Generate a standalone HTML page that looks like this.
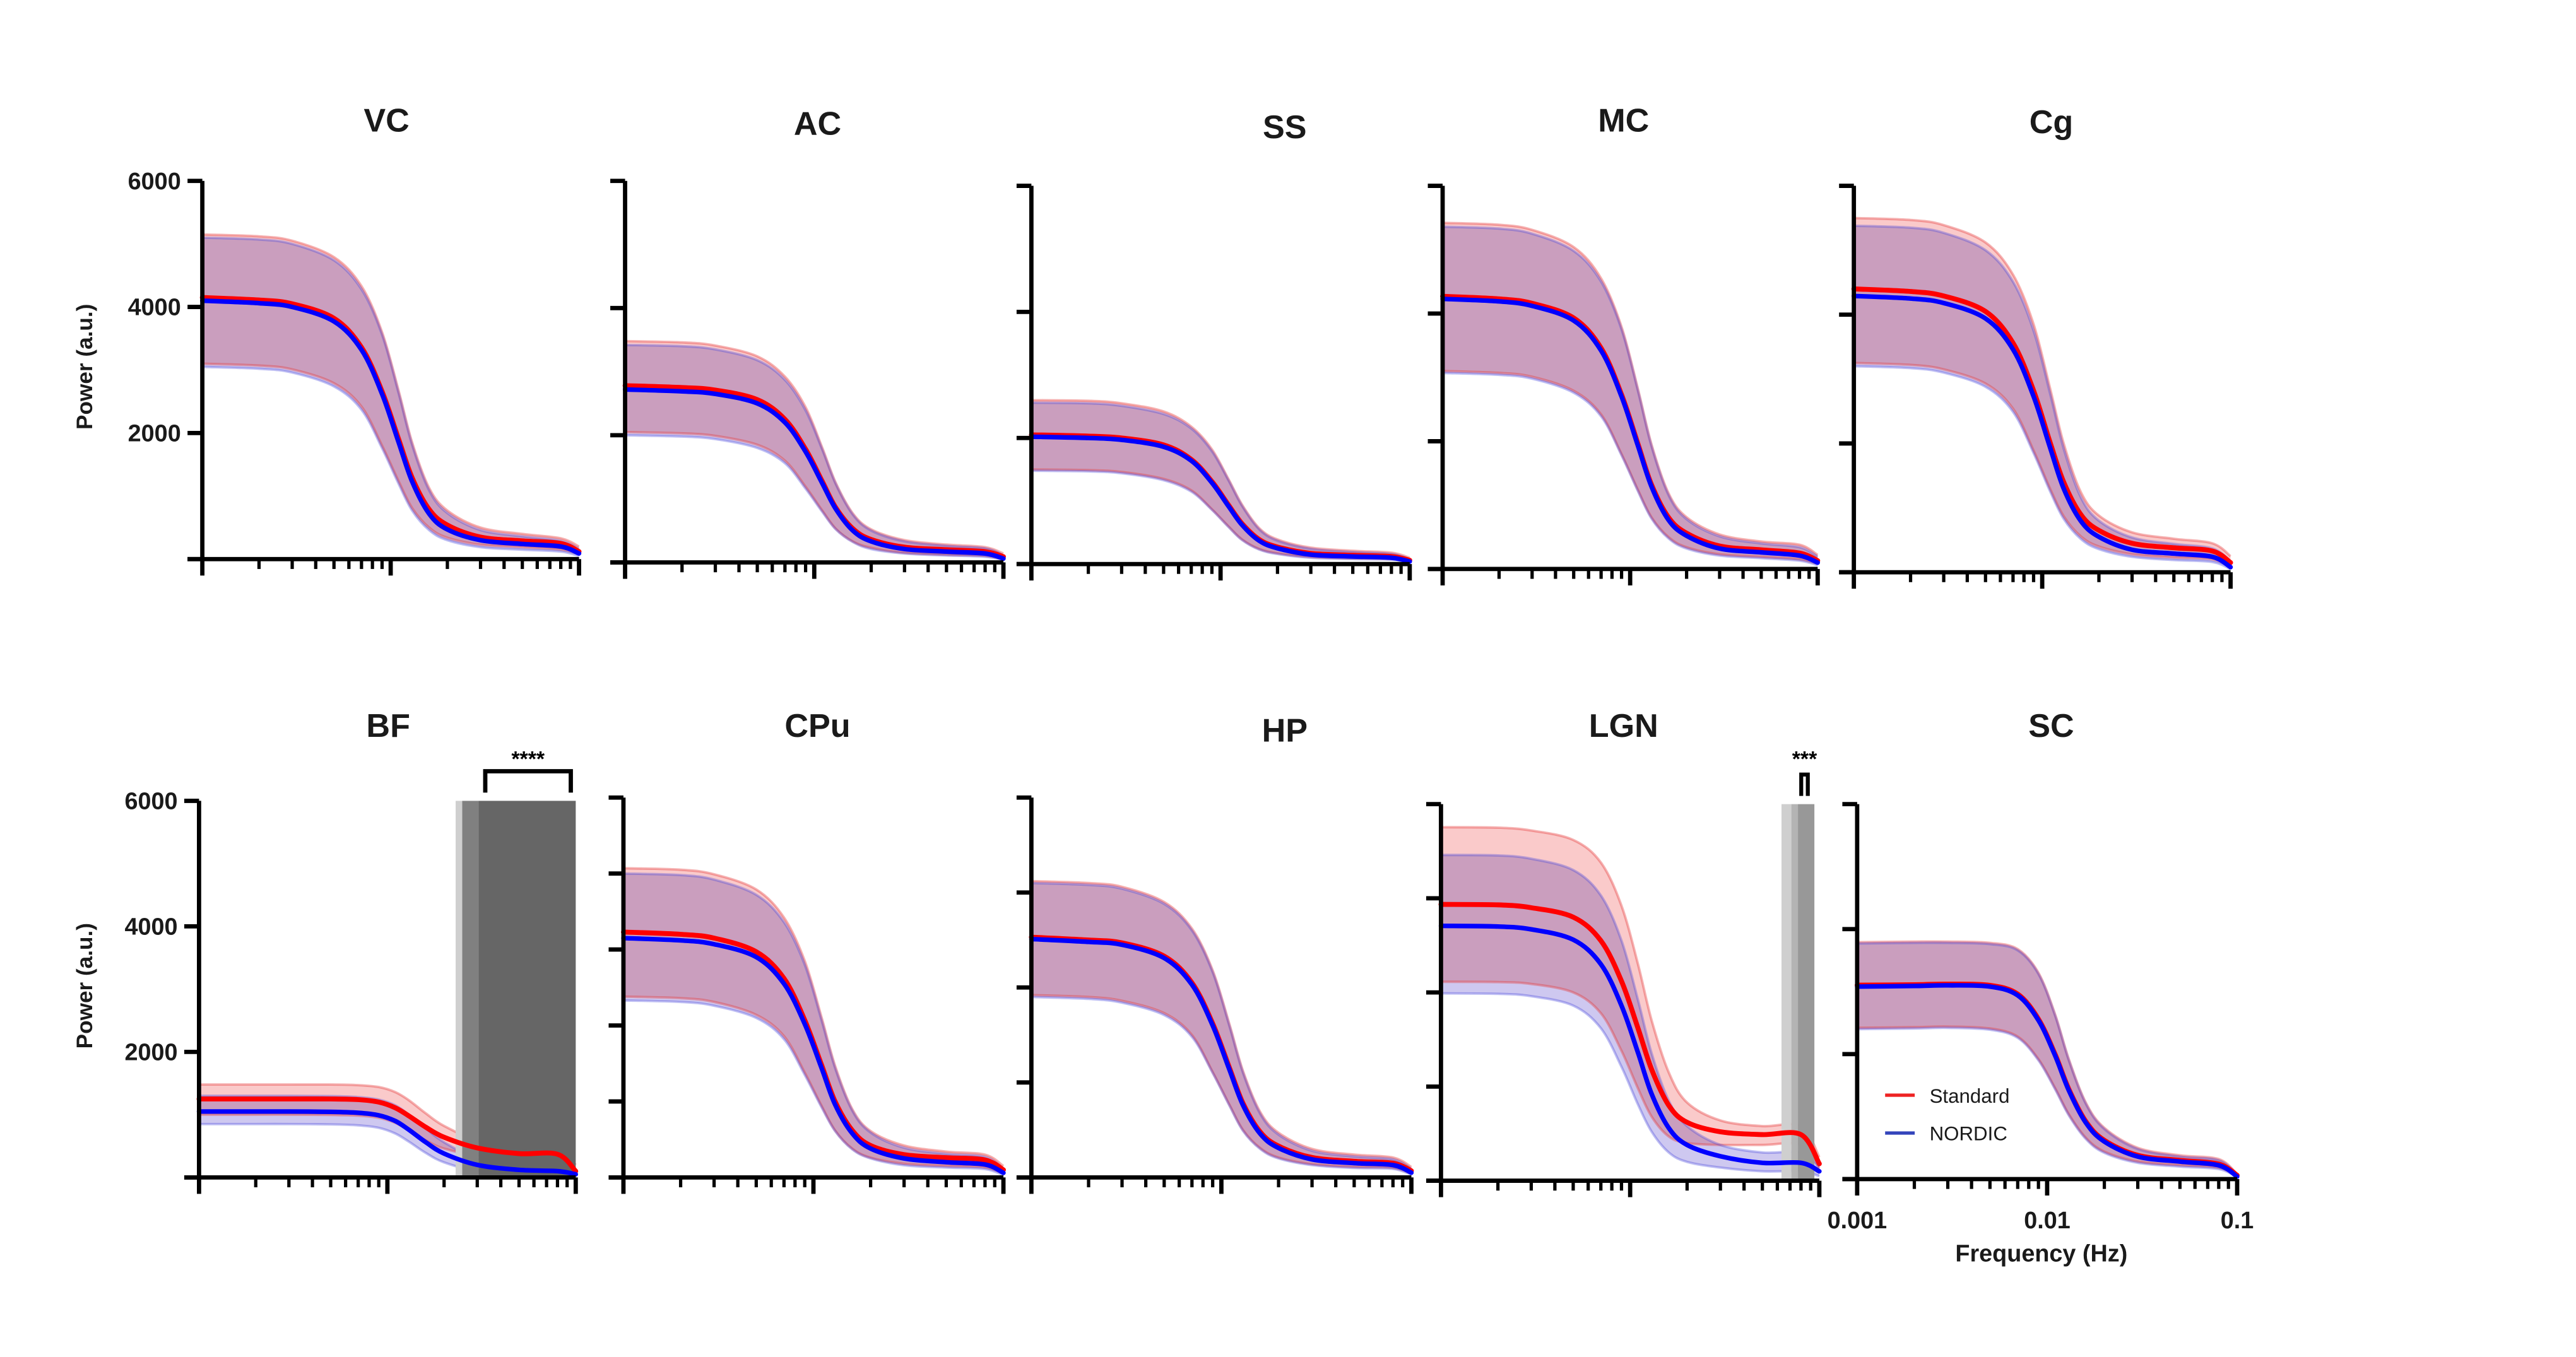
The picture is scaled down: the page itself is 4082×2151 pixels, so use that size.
<!DOCTYPE html>
<html><head><meta charset="utf-8">
<style>
html,body{margin:0;padding:0;background:#fff;}
svg{display:block;}
text{font-family:"Liberation Sans",Arial,sans-serif;}
</style></head>
<body>
<svg id="fig" xmlns="http://www.w3.org/2000/svg" width="4082" height="2151" viewBox="0 0 1566 825.2"></svg>
<script>
// shared frequency axis (Hz)
const freqs = [0.001,0.002,0.003,0.005,0.007,0.009,0.011,0.013,0.016,0.02,0.03,0.05,0.08,0.1];
const xTickLabels = ["0.001","0.01","0.1"];

// VC
const VC_std = [4150,4110,4050,3820,3360,2660,1910,1290,790,540,350,290,250,120];
const VC_nor = [4100,4060,4000,3770,3320,2620,1860,1230,720,470,300,240,200,90];
const VC_stdUp = [5150,5120,5050,4790,4330,3600,2680,1850,1130,770,500,400,330,200];
const VC_stdLo = [3100,3070,3010,2790,2420,1800,1240,810,500,340,230,190,150,80];
const VC_norUp = [5100,5070,5000,4740,4280,3560,2640,1810,1090,730,460,360,290,160];
const VC_norLo = [3050,3020,2960,2740,2370,1760,1200,770,460,300,190,150,120,50];
// AC
const AC_std = [2780,2750,2710,2560,2250,1780,1280,860,530,360,240,200,170,90];
const AC_nor = [2720,2690,2650,2500,2200,1740,1250,840,500,330,210,170,140,60];
const AC_stdUp = [3480,3460,3410,3240,2920,2440,1810,1250,770,520,350,280,240,140];
const AC_stdLo = [2050,2030,1990,1850,1600,1190,820,530,330,230,150,120,100,50];
const AC_norUp = [3420,3400,3350,3180,2870,2390,1780,1230,750,500,330,260,220,110];
const AC_norLo = [2000,1980,1940,1800,1560,1160,800,520,320,210,140,110,90,40];
// SS
const SS_std = [2050,2030,2000,1890,1660,1310,940,640,390,270,170,140,120,60];
const SS_nor = [2020,2000,1970,1860,1640,1290,920,620,370,250,150,120,100,40];
const SS_stdUp = [2600,2590,2550,2420,2180,1820,1350,940,570,390,260,210,180,100];
const SS_stdLo = [1500,1490,1460,1350,1170,870,600,390,240,170,110,90,80,40];
const SS_norUp = [2560,2550,2510,2380,2150,1790,1330,920,550,370,240,190,160,80];
const SS_norLo = [1480,1470,1440,1330,1150,860,590,380,230,160,100,80,70,30];
// MC
const MC_std = [4270,4230,4160,3930,3460,2730,1960,1320,810,560,360,300,250,130];
const MC_nor = [4230,4190,4120,3890,3420,2700,1930,1290,770,520,320,260,210,100];
const MC_stdUp = [5420,5390,5310,5040,4550,3790,2820,1950,1190,810,540,430,380,220];
const MC_stdLo = [3100,3070,3010,2790,2420,1800,1240,810,500,340,230,190,150,80];
const MC_norUp = [5360,5330,5250,4980,4500,3750,2790,1920,1160,780,510,400,340,190];
const MC_norLo = [3070,3040,2980,2760,2390,1780,1220,790,480,320,210,170,130,60];
// Cg
const Cg_std = [4400,4360,4290,4050,3560,2820,2020,1400,900,650,450,380,330,150];
const Cg_nor = [4290,4250,4180,3940,3460,2730,1940,1300,800,550,350,290,240,80];
const Cg_stdUp = [5500,5470,5390,5120,4620,3850,2860,2000,1250,880,620,520,450,250];
const Cg_stdLo = [3250,3220,3150,2930,2540,1890,1300,870,560,400,280,230,200,80];
const Cg_norUp = [5380,5350,5270,5000,4510,3750,2780,1920,1170,800,540,440,370,170];
const Cg_norLo = [3200,3170,3100,2880,2490,1850,1260,830,520,360,240,190,160,50];
// BF
const BF_std = [1250,1250,1250,1250,1240,1200,1110,980,800,640,470,380,370,100];
const BF_nor = [1050,1050,1050,1045,1030,990,900,760,560,380,200,120,100,50];
const BF_stdUp = [1480,1480,1480,1480,1470,1440,1360,1230,1020,820,590,470,460,200];
const BF_stdLo = [1000,1000,1000,995,985,950,870,750,590,460,350,300,290,60];
const BF_norUp = [1300,1300,1300,1295,1280,1240,1150,1000,780,560,300,200,180,100];
const BF_norLo = [850,850,850,845,830,790,700,570,390,240,100,60,50,20];
// CPu
const CPu_std = [3230,3200,3150,2970,2620,2070,1490,1000,620,420,300,260,230,100];
const CPu_nor = [3150,3120,3070,2900,2550,2020,1450,960,580,380,250,200,170,60];
const CPu_stdUp = [4070,4050,3990,3790,3420,2850,2120,1470,900,610,420,340,300,150];
const CPu_stdLo = [2380,2360,2310,2140,1860,1380,950,620,380,260,180,150,130,50];
const CPu_norUp = [4000,3980,3920,3720,3360,2800,2080,1440,880,590,390,310,270,110];
const CPu_norLo = [2330,2310,2260,2100,1820,1350,930,610,370,250,160,130,110,30];
// HP
const HP_std = [2530,2500,2470,2330,2050,1620,1160,780,480,330,210,170,150,70];
const HP_nor = [2510,2480,2450,2310,2030,1600,1140,760,460,310,190,150,130,50];
const HP_stdUp = [3120,3100,3060,2900,2620,2180,1620,1120,690,470,300,240,210,110];
const HP_stdLo = [1920,1900,1860,1730,1500,1110,770,500,310,210,140,110,100,40];
const HP_norUp = [3100,3080,3040,2880,2600,2160,1600,1100,670,450,280,220,190,90];
const HP_norLo = [1900,1880,1840,1710,1480,1100,760,490,300,200,130,100,90,30];
// LGN
const LGN_std = [2935,2930,2900,2800,2550,2120,1620,1180,800,620,520,490,490,180];
const LGN_nor = [2707,2700,2670,2560,2300,1860,1360,920,560,380,260,190,190,100];
const LGN_stdUp = [3755,3750,3720,3620,3380,2920,2300,1700,1150,830,640,580,580,250];
const LGN_stdLo = [2113,2110,2090,2000,1780,1380,980,680,470,400,380,380,380,130];
const LGN_norUp = [3460,3455,3420,3300,3030,2550,1920,1350,850,580,380,300,300,150];
const LGN_norLo = [1990,1985,1960,1860,1620,1210,810,520,300,200,140,100,100,50];
// SC
const SC_std = [1552,1555,1560,1550,1480,1280,1000,720,460,310,190,150,120,30];
const SC_nor = [1540,1545,1550,1540,1470,1270,990,710,450,300,180,140,110,20];
const SC_stdUp = [1895,1900,1900,1890,1840,1650,1320,960,610,410,250,190,160,40];
const SC_stdLo = [1210,1215,1220,1205,1140,960,730,520,330,220,140,110,90,20];
const SC_norUp = [1885,1890,1890,1880,1830,1640,1310,950,600,400,240,180,150,35];
const SC_norLo = [1200,1205,1210,1195,1130,950,720,510,320,210,130,100,80,15];

const panels = [
 {name:"VC", x0:123,x1:352,yt:110,yb:340,ymax:6000,nT:3,labels:true, tx:235,ty:80, d:[VC_std,VC_nor,VC_stdUp,VC_stdLo,VC_norUp,VC_norLo]},
 {name:"AC", x0:380,x1:610,yt:110,yb:342,ymax:6000,nT:3, tx:497,ty:82, d:[AC_std,AC_nor,AC_stdUp,AC_stdLo,AC_norUp,AC_norLo]},
 {name:"SS", x0:627,x1:857,yt:113,yb:343,ymax:6000,nT:3, tx:781,ty:84, d:[SS_std,SS_nor,SS_stdUp,SS_stdLo,SS_norUp,SS_norLo]},
 {name:"MC", x0:877,x1:1105,yt:113,yb:346,ymax:6000,nT:3, tx:987,ty:80, d:[MC_std,MC_nor,MC_stdUp,MC_stdLo,MC_norUp,MC_norLo]},
 {name:"Cg", x0:1127,x1:1356,yt:113,yb:348,ymax:6000,nT:3, tx:1247,ty:81, d:[Cg_std,Cg_nor,Cg_stdUp,Cg_stdLo,Cg_norUp,Cg_norLo]},
 {name:"BF", x0:121,x1:350,yt:487,yb:716,ymax:6000,nT:3,labels:true, tx:236,ty:448, d:[BF_std,BF_nor,BF_stdUp,BF_stdLo,BF_norUp,BF_norLo]},
 {name:"CPu", x0:379,x1:610,yt:485,yb:716,ymax:5000,nT:5, tx:497,ty:448, d:[CPu_std,CPu_nor,CPu_stdUp,CPu_stdLo,CPu_norUp,CPu_norLo]},
 {name:"HP", x0:627,x1:858,yt:485,yb:716,ymax:4000,nT:4, tx:781,ty:451, d:[HP_std,HP_nor,HP_stdUp,HP_stdLo,HP_norUp,HP_norLo]},
 {name:"LGN", x0:876,x1:1106,yt:489,yb:718,ymax:4000,nT:4, tx:987,ty:448, d:[LGN_std,LGN_nor,LGN_stdUp,LGN_stdLo,LGN_norUp,LGN_norLo]},
 {name:"SC", x0:1129,x1:1360,yt:489,yb:717,ymax:3000,nT:3,xlabels:true, tx:1247,ty:448, d:[SC_std,SC_nor,SC_stdUp,SC_stdLo,SC_norUp,SC_norLo]}
];

const NS="http://www.w3.org/2000/svg";
const svg=document.getElementById('fig');
function mk(tag,attrs,parent){const e=document.createElementNS(NS,tag);for(const k in attrs)e.setAttribute(k,attrs[k]);(parent||svg).appendChild(e);return e;}

function smooth(pts){
  let d="M"+pts[0][0].toFixed(2)+","+pts[0][1].toFixed(2);
  for(let i=0;i<pts.length-1;i++){
    const p0=pts[Math.max(0,i-1)],p1=pts[i],p2=pts[i+1],p3=pts[Math.min(pts.length-1,i+2)];
    const c1=[p1[0]+(p2[0]-p0[0])/6,p1[1]+(p2[1]-p0[1])/6];
    const c2=[p2[0]-(p3[0]-p1[0])/6,p2[1]-(p3[1]-p1[1])/6];
    d+=" C"+c1[0].toFixed(2)+","+c1[1].toFixed(2)+" "+c2[0].toFixed(2)+","+c2[1].toFixed(2)+" "+p2[0].toFixed(2)+","+p2[1].toFixed(2);
  }
  return d;
}

panels.forEach(p=>{
  const g=mk('g',{});
  
  
  const xs=f=>p.x0+(Math.log10(f)+3)/2*(p.x1-p.x0);
  const ys=v=>p.yb-v/p.ymax*(p.yb-p.yt);
  const pts=arr=>freqs.map((f,i)=>[xs(f),ys(arr[i])]);
  const [mS,mN,uS,lS,uN,lN]=p.d;

  const bandPath=(up,lo)=>{const a=pts(up),b=pts(lo).reverse();return smooth(a)+" L"+smooth(b).slice(1)+" Z";};
  const bs=mk('path',{d:bandPath(uS,lS),fill:'rgb(250,202,202)',stroke:'none'},g);
  
  
  const bn=mk('path',{d:bandPath(uN,lN),fill:'rgb(206,200,240)',stroke:'none',style:'mix-blend-mode:multiply'},g);
  
  
  [[uS,'rgba(230,60,60,0.4)'],[lS,'rgba(230,60,60,0.4)'],[uN,'rgba(70,70,220,0.35)'],[lN,'rgba(70,70,220,0.35)']].forEach(([arr,c])=>{
    const e=mk('path',{d:smooth(pts(arr)),fill:'none',stroke:c,'stroke-width':1.5},g);
    
    
  });

  if(p.name==="BF"){
    const r1=mk('rect',{x:277,y:p.yt,width:4,height:p.yb-p.yt,fill:'#cfcfcf'},g);
    
    
    const r2=mk('rect',{x:281,y:p.yt,width:10,height:p.yb-p.yt,fill:'#808080'},g);
    
    
    const r3=mk('rect',{x:291,y:p.yt,width:p.x1-291,height:p.yb-p.yt,fill:'#666666'},g);
    
    
    const br=mk('path',{d:"M295,482 V469 H347 V482",fill:'none',stroke:'#000','stroke-width':2.6},g);
    
    
    const st=mk('text',{x:321,y:466,'text-anchor':'middle','font-size':13,'font-weight':'bold'},g);
    st.textContent="****";
    
    
  }
  if(p.name==="LGN"){
    const r1=mk('rect',{x:1083,y:p.yt,width:6,height:p.yb-p.yt,fill:'#cfcfcf'},g);
    
    
    const r2=mk('rect',{x:1089,y:p.yt,width:4,height:p.yb-p.yt,fill:'#b4b4b4'},g);
    
    
    const r3=mk('rect',{x:1093,y:p.yt,width:10,height:p.yb-p.yt,fill:'#989898'},g);
    
    
    const br=mk('path',{d:"M1095,484 V471 H1099 V484",fill:'none',stroke:'#000','stroke-width':2.4},g);
    
    
    const st=mk('text',{x:1097,y:466,'text-anchor':'middle','font-size':13,'font-weight':'bold'},g);
    st.textContent="***";
    
    
  }

  const ls=mk('path',{d:smooth(pts(mS)),fill:'none',stroke:'#ff0000','stroke-width':3,'stroke-linecap':'round'},g);
  
  
  const ln=mk('path',{d:smooth(pts(mN)),fill:'none',stroke:'#0000ff','stroke-width':2.8,'stroke-linecap':'round'},g);
  
  

  const ax=mk('path',{d:`M${p.x0},${p.yt} V${p.yb+1} M${p.x0-9},${p.yb} H${p.x1}`,fill:'none',stroke:'#000','stroke-width':2.6},g);
  
  
  for(let i=0;i<=p.nT;i++){
    const y=p.yb-i*(p.yb-p.yt)/p.nT;
    const t=mk('line',{x1:p.x0-9,x2:p.x0,y1:y,y2:y,stroke:'#000','stroke-width':2.6},g);
    
    
    if(p.labels && i>0){
      const lb=mk('text',{x:p.x0-13,y:y+5,'text-anchor':'end','font-size':14.5,'font-weight':'bold',fill:'#1a1a1a'},g);
      lb.textContent=String(i*2000);
      
      
    }
  }
  for(let dec=0;dec<2;dec++){
    for(let k=1;k<=10;k++){
      if(dec===1 && k===1) continue;
      const f=Math.pow(10,-3+dec)*k;
      const x=xs(f);
      const major=(k===1||k===10);
      const t=mk('line',{x1:x,x2:x,y1:p.yb,y2:p.yb+(major?10:6),stroke:'#000','stroke-width':major?2.6:2},g);
      
      
    }
  }
  if(p.xlabels){
    xTickLabels.forEach((s,i)=>{
      const lb=mk('text',{x:p.x0+i*(p.x1-p.x0)/2,y:747,'text-anchor':'middle','font-size':14.5,'font-weight':'bold',fill:'#1a1a1a'},g);
      lb.textContent=s;
      
      
    });
    const xt=mk('text',{x:1241,y:767,'text-anchor':'middle','font-size':14.5,'font-weight':'bold',fill:'#1a1a1a'},g);
    xt.textContent="Frequency (Hz)";
    
    
  }
  if(p.labels){
    const yt=mk('text',{x:0,y:0,transform:`translate(56,${(p.yt+p.yb)/2-2}) rotate(-90)`,'text-anchor':'middle','font-size':13.5,'font-weight':'bold',fill:'#1a1a1a'},g);
    yt.textContent="Power (a.u.)";
    
    
  }
  const tt=mk('text',{x:p.tx,y:p.ty,'text-anchor':'middle','font-size':20,'font-weight':'bold',fill:'#1a1a1a'},g);
  tt.textContent=p.name;
  
  
});

const lg=mk('g',{});


const l1=mk('line',{x1:1146,x2:1164,y1:666,y2:666,stroke:'#ee2222','stroke-width':2},lg);


const t1=mk('text',{x:1173,y:670.5,'font-size':12,fill:'#1a1a1a'},lg);
t1.textContent="Standard";


const l2=mk('line',{x1:1146,x2:1164,y1:689,y2:689,stroke:'#3344bb','stroke-width':2},lg);


const t2=mk('text',{x:1173,y:693.5,'font-size':12,fill:'#1a1a1a'},lg);
t2.textContent="NORDIC";


</script>
</body></html>
